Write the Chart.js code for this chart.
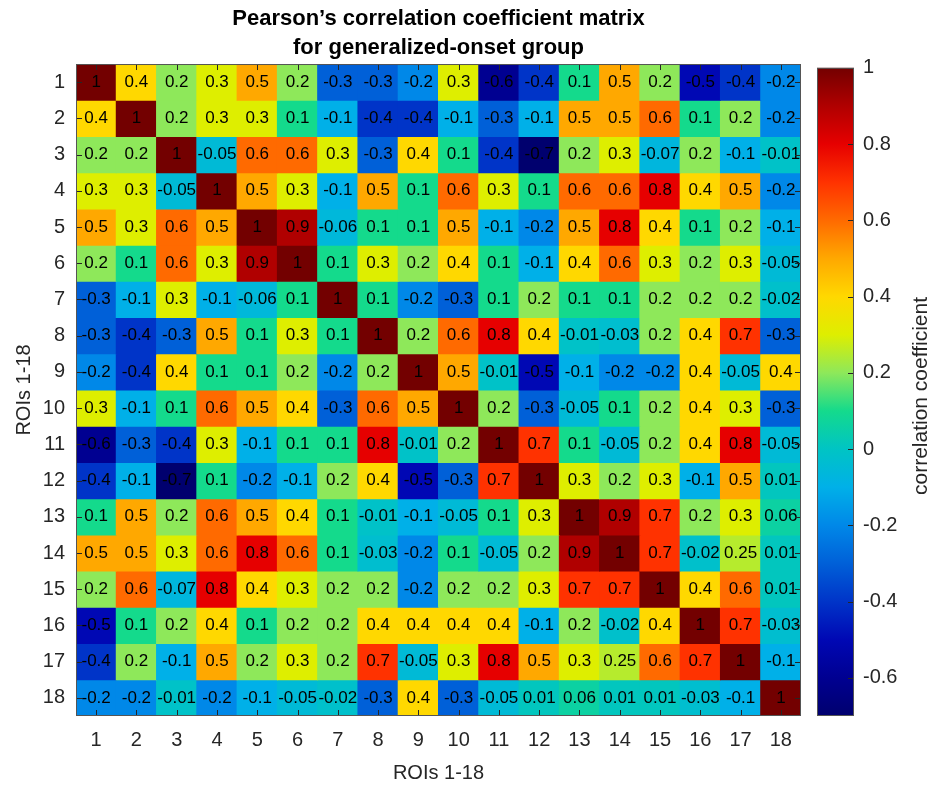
<!DOCTYPE html>
<html>
<head>
<meta charset="utf-8">
<title>Pearson's correlation coefficient matrix</title>
<script src="https://cdn.jsdelivr.net/npm/chart.js@4.4.0/dist/chart.umd.min.js"></script>
<style>
  html, body { margin: 0; padding: 0; background: #fff; }
  canvas { display: block; }
</style>
</head>
<body>
<canvas id="corrChart" width="929" height="789"></canvas>
<script>
const rois = ['1', '2', '3', '4', '5', '6', '7', '8', '9', '10', '11', '12', '13', '14', '15', '16', '17', '18'];

// one row per ROI, as printed in the cells
const corr = [
  [1, 0.4, 0.2, 0.3, 0.5, 0.2, -0.3, -0.3, -0.2, 0.3, -0.6, -0.4, 0.1, 0.5, 0.2, -0.5, -0.4, -0.2],
  [0.4, 1, 0.2, 0.3, 0.3, 0.1, -0.1, -0.4, -0.4, -0.1, -0.3, -0.1, 0.5, 0.5, 0.6, 0.1, 0.2, -0.2],
  [0.2, 0.2, 1, -0.05, 0.6, 0.6, 0.3, -0.3, 0.4, 0.1, -0.4, -0.7, 0.2, 0.3, -0.07, 0.2, -0.1, -0.01],
  [0.3, 0.3, -0.05, 1, 0.5, 0.3, -0.1, 0.5, 0.1, 0.6, 0.3, 0.1, 0.6, 0.6, 0.8, 0.4, 0.5, -0.2],
  [0.5, 0.3, 0.6, 0.5, 1, 0.9, -0.06, 0.1, 0.1, 0.5, -0.1, -0.2, 0.5, 0.8, 0.4, 0.1, 0.2, -0.1],
  [0.2, 0.1, 0.6, 0.3, 0.9, 1, 0.1, 0.3, 0.2, 0.4, 0.1, -0.1, 0.4, 0.6, 0.3, 0.2, 0.3, -0.05],
  [-0.3, -0.1, 0.3, -0.1, -0.06, 0.1, 1, 0.1, -0.2, -0.3, 0.1, 0.2, 0.1, 0.1, 0.2, 0.2, 0.2, -0.02],
  [-0.3, -0.4, -0.3, 0.5, 0.1, 0.3, 0.1, 1, 0.2, 0.6, 0.8, 0.4, -0.01, -0.03, 0.2, 0.4, 0.7, -0.3],
  [-0.2, -0.4, 0.4, 0.1, 0.1, 0.2, -0.2, 0.2, 1, 0.5, -0.01, -0.5, -0.1, -0.2, -0.2, 0.4, -0.05, 0.4],
  [0.3, -0.1, 0.1, 0.6, 0.5, 0.4, -0.3, 0.6, 0.5, 1, 0.2, -0.3, -0.05, 0.1, 0.2, 0.4, 0.3, -0.3],
  [-0.6, -0.3, -0.4, 0.3, -0.1, 0.1, 0.1, 0.8, -0.01, 0.2, 1, 0.7, 0.1, -0.05, 0.2, 0.4, 0.8, -0.05],
  [-0.4, -0.1, -0.7, 0.1, -0.2, -0.1, 0.2, 0.4, -0.5, -0.3, 0.7, 1, 0.3, 0.2, 0.3, -0.1, 0.5, 0.01],
  [0.1, 0.5, 0.2, 0.6, 0.5, 0.4, 0.1, -0.01, -0.1, -0.05, 0.1, 0.3, 1, 0.9, 0.7, 0.2, 0.3, 0.06],
  [0.5, 0.5, 0.3, 0.6, 0.8, 0.6, 0.1, -0.03, -0.2, 0.1, -0.05, 0.2, 0.9, 1, 0.7, -0.02, 0.25, 0.01],
  [0.2, 0.6, -0.07, 0.8, 0.4, 0.3, 0.2, 0.2, -0.2, 0.2, 0.2, 0.3, 0.7, 0.7, 1, 0.4, 0.6, 0.01],
  [-0.5, 0.1, 0.2, 0.4, 0.1, 0.2, 0.2, 0.4, 0.4, 0.4, 0.4, -0.1, 0.2, -0.02, 0.4, 1, 0.7, -0.03],
  [-0.4, 0.2, -0.1, 0.5, 0.2, 0.3, 0.2, 0.7, -0.05, 0.3, 0.8, 0.5, 0.3, 0.25, 0.6, 0.7, 1, -0.1],
  [-0.2, -0.2, -0.01, -0.2, -0.1, -0.05, -0.02, -0.3, 0.4, -0.3, -0.05, 0.01, 0.06, 0.01, 0.01, -0.03, -0.1, 1]
];

const cbTicks = [-0.6, -0.4, -0.2, 0, 0.2, 0.4, 0.6, 0.8, 1];
const cbMin = -0.7;
const cbMax = 1;

const FONT = "'Liberation Sans', Arial, Helvetica, sans-serif";
const AXIS_COLOR = '#262626';

// jet-like colormap, sampled from the reference colorbar
const cmapStops = [
  [-0.7, [0, 0, 110]],
  [-0.6, [0, 0, 145]],
  [-0.5, [0, 8, 180]],
  [-0.4, [0, 52, 200]],
  [-0.3, [0, 96, 216]],
  [-0.2, [0, 136, 232]],
  [-0.1, [0, 176, 232]],
  [0, [0, 196, 196]],
  [0.1, [20, 218, 140]],
  [0.2, [142, 232, 90]],
  [0.3, [222, 238, 0]],
  [0.4, [255, 216, 0]],
  [0.5, [255, 168, 0]],
  [0.6, [255, 106, 0]],
  [0.7, [255, 50, 0]],
  [0.8, [230, 0, 0]],
  [0.9, [176, 0, 0]],
  [1, [115, 0, 0]]
];

function rgb(c) {
  return `rgb(${c[0]},${c[1]},${c[2]})`;
}

function colorFor(v) {
  if (v <= cmapStops[0][0]) return rgb(cmapStops[0][1]);
  for (let i = 1; i < cmapStops.length; i++) {
    const [v1, c1] = cmapStops[i];
    if (v <= v1) {
      const [v0, c0] = cmapStops[i - 1];
      const t = (v - v0) / (v1 - v0);
      return rgb(c0.map((ch, k) => Math.round(ch + (c1[k] - ch) * t)));
    }
  }
  return rgb(cmapStops[cmapStops.length - 1][1]);
}

// each row is a dataset of floating bars spanning one cell in y
const datasets = corr.map((row, r) => ({
  label: rois[r],
  data: row.map(() => [r + 0.5, r + 1.5]),
  backgroundColor: row.map(colorFor),
  borderWidth: 0,
  inflateAmount: 0.5,
  barPercentage: 1,
  categoryPercentage: 1,
  grouped: false,
  yAxisID: 'y'
}));

const cellLabels = {
  id: 'cellLabels',
  afterDatasetsDraw(chart) {
    const ctx = chart.ctx;
    ctx.save();
    ctx.font = '17px ' + FONT;
    ctx.fillStyle = '#000';
    ctx.textAlign = 'center';
    ctx.textBaseline = 'middle';
    chart.data.datasets.forEach((ds, i) => {
      chart.getDatasetMeta(i).data.forEach((bar, j) => {
        ctx.fillText(String(corr[i][j]), bar.x, (bar.y + bar.base) / 2);
      });
    });
    ctx.restore();
  }
};

const frameAndColorbar = {
  id: 'frameAndColorbar',
  afterDraw(chart) {
    const { ctx, chartArea: a, scales: { x, y, cb } } = chart;
    ctx.save();

    // inward tick marks on all four sides
    ctx.strokeStyle = AXIS_COLOR;
    ctx.lineWidth = 1;
    ctx.beginPath();
    rois.forEach((r, i) => {
      const px = Math.round(x.getPixelForValue(i)) + 0.5;
      ctx.moveTo(px, a.top); ctx.lineTo(px, a.top + 6);
      ctx.moveTo(px, a.bottom); ctx.lineTo(px, a.bottom - 6);
      const py = Math.round(y.getPixelForValue(i + 1)) + 0.5;
      ctx.moveTo(a.left, py); ctx.lineTo(a.left + 6, py);
      ctx.moveTo(a.right, py); ctx.lineTo(a.right - 6, py);
    });
    ctx.stroke();
    ctx.strokeStyle = '#555';
    ctx.strokeRect(a.left + 0.5, a.top + 0.5, a.width - 1, a.height - 1);

    // colorbar
    const bx = Math.round(a.right) + 16;
    const bw = 37;
    const top = cb.getPixelForValue(cbMax);
    const bot = cb.getPixelForValue(cbMin);
    const grad = ctx.createLinearGradient(0, bot, 0, top);
    cmapStops.forEach(([v, c]) => grad.addColorStop((v - cbMin) / (cbMax - cbMin), rgb(c)));
    ctx.fillStyle = grad;
    ctx.fillRect(bx, top, bw, bot - top);

    ctx.strokeStyle = AXIS_COLOR;
    ctx.beginPath();
    cbTicks.forEach(v => {
      const py = Math.round(cb.getPixelForValue(v)) + 0.5;
      ctx.moveTo(bx + bw, py); ctx.lineTo(bx + bw - 6, py);
    });
    ctx.stroke();
    ctx.strokeStyle = '#555';
    ctx.strokeRect(bx + 0.5, top + 0.5, bw - 1, bot - top - 1);

    // colorbar tick labels
    ctx.fillStyle = AXIS_COLOR;
    ctx.font = '20px ' + FONT;
    ctx.textAlign = 'left';
    ctx.textBaseline = 'middle';
    cbTicks.forEach(v => ctx.fillText(String(v), bx + bw + 9, cb.getPixelForValue(v)));

    ctx.font = '21px ' + FONT;
    ctx.textAlign = 'center';
    ctx.translate(921, (a.top + a.bottom) / 2 + 6);
    ctx.rotate(-Math.PI / 2);
    ctx.fillText('correlation coefficient', 0, 0);
    ctx.restore();
  }
};

Chart.defaults.font.family = FONT;
Chart.defaults.color = AXIS_COLOR;

const ctx = document.getElementById('corrChart').getContext('2d');
new Chart(ctx, {
  type: 'bar',
  data: { labels: rois, datasets },
  options: {
    responsive: false,
    animation: false,
    layout: { padding: 0 },
    plugins: {
      legend: { display: false },
      tooltip: { enabled: false },
      title: {
        display: true,
        fullSize: false,
        text: ['Pearson\u2019s correlation coefficient matrix', 'for generalized-onset group'],
        color: '#000',
        font: { size: 22, weight: 'bold', lineHeight: 1.33 },
        padding: { top: 4, bottom: 1.5 }
      }
    },
    scales: {
      x: {
        type: 'category',
        offset: true,
        grid: { display: false, drawTicks: false },
        border: { display: false },
        ticks: { font: { size: 20 }, padding: 12, maxRotation: 0, autoSkip: false },
        title: { display: true, text: 'ROIs 1-18', font: { size: 20 }, padding: { top: 0, bottom: 4 } },
        afterFit(scale) { scale.height = 73; }
      },
      y: {
        type: 'linear',
        reverse: true,
        min: 0.5,
        max: 18.5,
        grid: { display: false, drawTicks: false },
        border: { display: false },
        afterBuildTicks(scale) { scale.ticks = rois.map((r, i) => ({ value: i + 1 })); },
        ticks: { font: { size: 20 }, padding: 11, callback: v => rois[v - 1] },
        title: { display: true, text: 'ROIs 1-18', font: { size: 20 }, padding: { top: 12, bottom: 0 } },
        afterFit(scale) { scale.width = 76; }
      },
      // colorbar scale: labels drawn by the plugin, the axis only reserves space
      cb: {
        type: 'linear',
        position: 'right',
        min: cbMin,
        max: cbMax + 0.01, // colorbar top sits a few px below the plot top
        grid: { display: false, drawTicks: false },
        border: { display: false },
        ticks: { display: false },
        afterFit(scale) { scale.width = 128; }
      }
    }
  },
  plugins: [cellLabels, frameAndColorbar]
});
</script>
</body>
</html>
